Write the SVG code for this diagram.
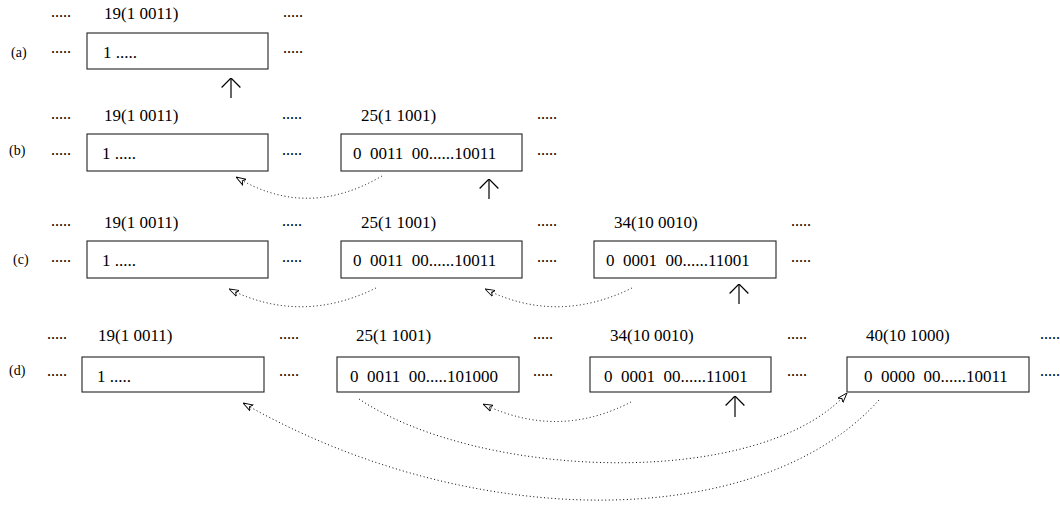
<svg xmlns="http://www.w3.org/2000/svg" width="1060" height="505" viewBox="0 0 1060 505">
<style>
text{font-family:"Liberation Serif","Times New Roman",serif;font-size:17px;fill:#000}
.rl{font-size:14px}
.dt{font-size:16px}
.bx{fill:#fff;stroke:#222;stroke-width:1.1}
.bt{white-space:pre}
.dot{fill:none;stroke:#000;stroke-width:1;stroke-dasharray:1 2.6;marker-end:url(#ah)}
.up{fill:none;stroke:#000;stroke-width:1.2;marker-end:url(#chev)}
</style>
<defs>
<marker id="ah" viewBox="0 0 10 8" refX="10" refY="4" markerWidth="10" markerHeight="8" markerUnits="userSpaceOnUse" orient="auto">
<path d="M0,0.6 L10,4 L0,7.4 L2.6,4 Z" fill="#fff" stroke="#000" stroke-width="0.9"/>
</marker>
<marker id="chev" viewBox="0 0 10 20" refX="10" refY="10" markerWidth="10" markerHeight="20" markerUnits="userSpaceOnUse" orient="auto">
<path d="M0.5,0.6 L10,10 L0.5,19.4" fill="none" stroke="#000" stroke-width="1.2"/>
</marker>
</defs>

<!-- Row (a) -->
<g id="row-a-labels">
<text class="rl" x="11" y="57">(a)</text>
<text class="dt" x="51" y="17">.....</text>
<text x="104" y="19">19(1 0011)</text>
<text class="dt" x="283" y="17">.....</text>
<text class="dt" x="51" y="53">.....</text>
<text class="dt" x="283" y="53">.....</text>
</g>
<g id="a-node-19">
<rect class="bx" x="87" y="33" width="181" height="36"/>
<text class="bt" x="103" y="58">1 .....</text>
</g>

<!-- Row (b) -->
<g id="row-b-labels">
<text class="rl" x="9" y="155">(b)</text>
<text class="dt" x="51" y="119">.....</text>
<text x="104" y="121">19(1 0011)</text>
<text class="dt" x="282" y="119">.....</text>
<text x="361" y="121">25(1 1001)</text>
<text class="dt" x="537" y="119">.....</text>
<text class="dt" x="51" y="155">.....</text>
<text class="dt" x="282" y="155">.....</text>
<text class="dt" x="537" y="155">.....</text>
</g>
<g id="b-node-19">
<rect class="bx" x="87" y="134" width="181" height="37"/>
<text class="bt" x="102" y="159">1 .....</text>
</g>
<g id="b-node-25">
<rect class="bx" x="341" y="134" width="181" height="37"/>
<text class="bt" x="353" y="159">0  0011  00......10011</text>
</g>

<!-- Row (c) -->
<g id="row-c-labels">
<text class="rl" x="13" y="264">(c)</text>
<text class="dt" x="51" y="226">.....</text>
<text x="104" y="228">19(1 0011)</text>
<text class="dt" x="282" y="226">.....</text>
<text x="361" y="228">25(1 1001)</text>
<text class="dt" x="537" y="226">.....</text>
<text x="614" y="228">34(10 0010)</text>
<text class="dt" x="791" y="226">.....</text>
<text class="dt" x="51" y="262">.....</text>
<text class="dt" x="282" y="262">.....</text>
<text class="dt" x="537" y="262">.....</text>
<text class="dt" x="791" y="262">.....</text>
</g>
<g id="c-node-19">
<rect class="bx" x="87" y="241" width="181" height="37"/>
<text class="bt" x="102" y="266">1 .....</text>
</g>
<g id="c-node-25">
<rect class="bx" x="341" y="241" width="181" height="37"/>
<text class="bt" x="353" y="266">0  0011  00......10011</text>
</g>
<g id="c-node-34">
<rect class="bx" x="594" y="241" width="182" height="37"/>
<text class="bt" x="606" y="266">0  0001  00......11001</text>
</g>

<!-- Row (d) -->
<g id="row-d-labels">
<text class="rl" x="9" y="375">(d)</text>
<text class="dt" x="47" y="339">.....</text>
<text x="98" y="341">19(1 0011)</text>
<text class="dt" x="279" y="339">.....</text>
<text x="356" y="341">25(1 1001)</text>
<text class="dt" x="533" y="339">.....</text>
<text x="610" y="341">34(10 0010)</text>
<text class="dt" x="787" y="339">.....</text>
<text x="866" y="341">40(10 1000)</text>
<text class="dt" x="1040" y="339">.....</text>
<text class="dt" x="47" y="376">.....</text>
<text class="dt" x="279" y="376">.....</text>
<text class="dt" x="533" y="376">.....</text>
<text class="dt" x="787" y="376">.....</text>
<text class="dt" x="1040" y="376">.....</text>
</g>
<g id="d-node-19">
<rect class="bx" x="82" y="357" width="182" height="35"/>
<text class="bt" x="97" y="382">1 .....</text>
</g>
<g id="d-node-25">
<rect class="bx" x="337" y="357" width="182" height="35"/>
<text class="bt" x="350" y="382">0  0011  00.....101000</text>
</g>
<g id="d-node-34">
<rect class="bx" x="590" y="357" width="181" height="35"/>
<text class="bt" x="604" y="382">0  0001  00......11001</text>
</g>
<g id="d-node-40">
<rect class="bx" x="847" y="357" width="182" height="35"/>
<text class="bt" x="864" y="382">0  0000  00......10011</text>
</g>

<g id="connectors">
<line class="up" x1="231" y1="98" x2="231" y2="78"/>
<line class="up" x1="489" y1="199" x2="489" y2="179"/>
<path class="dot" d="M382,176 Q307,220 236,177"/>
<line class="up" x1="739" y1="304" x2="739" y2="284"/>
<path class="dot" d="M376,288 Q301,325 229,289"/>
<path class="dot" d="M632,288 Q557,325 485,289"/>
<line class="up" x1="735" y1="417" x2="735" y2="396"/>
<path class="dot" d="M631,402 Q558,440 483,404"/>
<path class="dot" d="M359,399 C480,480 760,490 847,393"/>
<path class="dot" d="M879,400 C760,533 470,533 243,403"/>
</g>
</svg>
